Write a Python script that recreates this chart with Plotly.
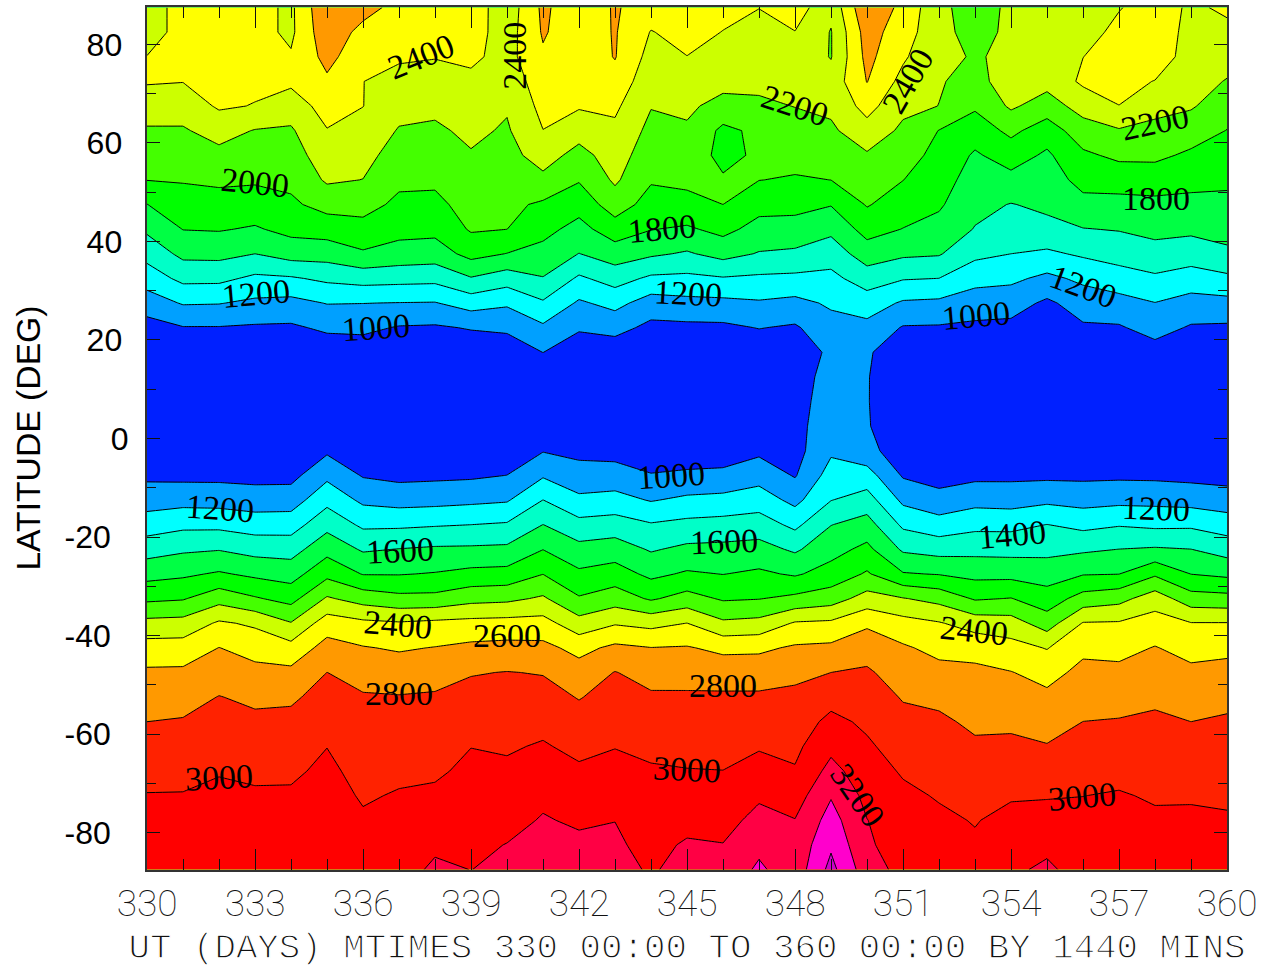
import plotly.graph_objects as go

# Latitude rows, south to north
latitudes = [-87.5,-82.5,-77.5,-72.5,-67.5,-62.5,-57.5,-52.5,-47.5,-42.5,-37.5,-32.5,-27.5,-22.5,-17.5,-12.5,-7.5,-2.5,
             2.5,7.5,12.5,17.5,22.5,27.5,32.5,37.5,42.5,47.5,52.5,57.5,62.5,67.5,72.5,77.5,82.5,87.5]
days = list(range(330, 361))

day_330 = [3130,3100,3050,3010,2927,2863,2800,2715,2631,2484,2259,1960,1732,1517,1300,1113,960,850,800,780,790,830,920,1101,1291,1470,1636,1797,2004,2092,2179,2294,2417,2405,2300,2300]
day_331 = [3130,3100,3055,3010,2945,2880,2815,2728,2635,2488,2272,1984,1766,1570,1352,1133,950,860,810,790,800,860,990,1216,1452,1650,1805,1912,2014,2097,2180,2289,2405,2440,2480,2480]
day_332 = [3140,3110,3080,3045,2986,2925,2866,2806,2706,2603,2428,2126,1823,1590,1350,1125,950,860,810,790,800,860,990,1209,1449,1657,1814,1925,2034,2145,2275,2425,2470,2500,2510,2510]
day_333 = [3140,3110,3075,3025,2963,2901,2840,2762,2654,2529,2368,2020,1759,1530,1306,1098,940,850,810,790,810,880,975,1160,1360,1600,1780,1910,2023,2106,2190,2392,2440,2470,2470,2470]
day_334 = [3140,3110,3075,3025,2968,2907,2847,2772,2647,2469,2210,1932,1716,1520,1310,1105,940,850,810,790,810,880,970,1139,1378,1684,1857,1966,2045,2111,2176,2294,2440,2420,2360,2360]
day_335 = [3150,3130,3105,3075,3040,2997,2933,2866,2801,2674,2502,2224,1945,1734,1538,1342,1154,970,860,820,800,880,1035,1208,1440,1685,1887,2070,2227,2309,2391,2480,2568,2660,2740,2780]
day_336 = [3130,3090,3025,2980,2939,2898,2858,2817,2730,2612,2444,2117,1790,1576,1362,1159,985,880,830,800,800,890,1045,1203,1478,1775,1934,2070,2197,2265,2331,2403,2402,2470,2535,2680]
day_337 = [3130,3105,3065,3015,2962,2911,2861,2810,2704,2579,2419,2056,1790,1606,1364,1124,950,860,810,790,800,860,985,1195,1466,1722,1863,1958,2040,2112,2186,2264,2343,2423,2490,2530]
day_338 = [3230,3170,3100,3032,2973,2922,2872,2821,2729,2607,2446,2059,1812,1629,1383,1135,960,860,810,790,800,860,975,1190,1456,1702,1855,1952,2034,2101,2168,2243,2325,2408,2470,2500]
day_339 = [3198,3160,3118,3078,3039,2997,2930,2862,2788,2644,2462,2136,1856,1633,1400,1156,970,870,820,790,810,870,1014,1288,1586,1865,2021,2076,2131,2185,2241,2298,2354,2440,2480,2510]
day_340 = [3240,3205,3140,3088,3034,2979,2921,2864,2806,2659,2472,2155,1869,1643,1422,1180,1002,870,840,800,810,880,1037,1230,1493,1795,2001,2045,2089,2133,2177,2220,2270,2330,2310,2280]
day_341 = [3280,3250,3215,3162,3091,3018,2945,2869,2790,2652,2475,2228,1997,1797,1602,1402,1179,990,850,810,830,1002,1165,1375,1590,1737,1860,1969,2152,2286,2397,2457,2515,2574,2620,2640]
day_342 = [3270,3240,3173,3100,3030,2951,2872,2790,2683,2541,2277,2019,1838,1663,1465,1242,1080,950,830,800,810,880,1024,1172,1368,1596,1734,1875,2015,2132,2279,2420,2450,2470,2480,2460]
day_343 = [3260,3225,3198,3132,3062,2993,2931,2869,2807,2642,2383,2103,1890,1698,1492,1268,1087,930,820,790,810,880,1067,1261,1482,1700,1906,2100,2231,2295,2359,2436,2531,2610,2615,2620]
day_344 = [3180,3150,3110,3065,3020,2958,2892,2827,2728,2604,2341,1975,1753,1581,1417,1187,1012,880,820,790,800,860,950,1108,1364,1631,1807,1921,2019,2083,2146,2209,2270,2330,2391,2500]
day_345 = [3263,3220,3148,3078,3007,2945,2885,2825,2732,2615,2402,2078,1825,1644,1455,1241,1035,890,820,790,800,860,955,1143,1354,1578,1773,1942,2041,2106,2170,2241,2319,2397,2470,2490]
day_346 = [3258,3206,3130,3066,3002,2943,2885,2826,2720,2553,2235,1977,1796,1652,1474,1257,1055,880,820,790,800,860,960,1150,1385,1668,1857,2000,2020,1948,1957,2126,2270,2350,2395,2460]
day_347 = [3435,3350,3261,3171,3075,2982,2905,2828,2715,2562,2260,1993,1834,1671,1496,1303,1122,960,820,790,800,870,1007,1178,1365,1587,1730,1868,2003,2030,2040,2170,2240,2300,2347,2403]
day_348 = [3280,3255,3206,3109,3016,2957,2899,2840,2758,2626,2420,2047,1777,1570,1352,1144,985,930,968,968,951,880,975,1145,1354,1565,1723,1860,1983,2061,2133,2204,2266,2332,2395,2500]
day_349 = [3660,3570,3478,3385,3262,3150,3050,2933,2800,2642,2437,2107,1877,1730,1595,1395,1282,1170,1060,1040,1040,1040,1130,1228,1347,1489,1648,1810,2001,2083,2167,2240,2280,2190,2190,2250]
day_350 = [3288,3225,3204,3146,3088,3029,2965,2896,2827,2718,2567,2281,2023,1850,1680,1488,1284,1067,1017,1012,1012,1020,1143,1300,1497,1701,1875,2015,2097,2178,2321,2472,2606,2657,2690,2780]
day_351 = [3141,3120,3085,3040,2980,2915,2853,2786,2706,2625,2473,2211,1815,1570,1362,1156,980,880,850,830,840,900,985,1175,1414,1634,1795,1900,2003,2083,2162,2247,2337,2430,2490,2540]
day_352 = [3100,3070,3035,2985,2933,2881,2830,2762,2658,2545,2415,2136,1790,1523,1283,1072,920,850,820,800,810,870,980,1159,1399,1617,1735,1826,1884,1940,1995,2198,2212,2230,2265,2254]
day_353 = [3050,3025,2990,2932,2879,2826,2768,2705,2641,2533,2315,1979,1742,1540,1346,1133,955,860,820,800,810,860,960,1100,1264,1449,1590,1656,1715,1775,1889,2030,2150,2190,2120,2100]
day_354 = [3160,3110,3053,2982,2910,2839,2764,2685,2607,2468,2289,2007,1740,1532,1347,1116,960,860,810,790,800,860,950,1082,1242,1400,1496,1592,1742,1889,2047,2230,2275,2223,2247,2243]
day_355 = [3240,3150,3070,2987,2900,2810,2726,2642,2533,2390,2103,1890,1709,1544,1403,1158,960,860,810,780,790,830,910,965,1153,1366,1542,1642,1705,1768,1895,2109,2265,2300,2320,2330]
day_356 = [3107,3085,3050,2998,2933,2867,2801,2727,2653,2556,2412,2081,1788,1569,1346,1128,960,860,810,790,800,870,975,1088,1242,1428,1593,1742,1863,1965,2112,2279,2434,2398,2295,2300]
day_357 = [3120,3095,3060,3015,2947,2879,2812,2730,2646,2541,2419,2135,1797,1602,1386,1148,965,860,810,790,800,870,980,1127,1315,1477,1611,1738,1883,2041,2182,2398,2450,2480,2470,2385]
day_358 = [3100,3070,3030,2980,2930,2880,2830,2768,2689,2609,2487,2308,1970,1622,1358,1146,960,860,810,780,790,920,1075,1196,1368,1529,1654,1752,1891,2043,2150,2257,2395,2490,2510,2520]
day_359 = [3100,3070,3035,2980,2921,2860,2800,2720,2641,2536,2408,2086,1797,1602,1365,1127,945,850,800,780,790,850,980,1124,1311,1494,1640,1748,1856,1965,2096,2220,2270,2330,2341,2360]
day_360 = [3090,3065,3020,2971,2922,2872,2823,2752,2662,2553,2408,2068,1757,1518,1304,1093,930,850,800,780,800,860,970,1138,1358,1567,1659,1751,1837,1916,1995,2093,2190,2268,2344,2440]

columns = [day_330,day_331,day_332,day_333,day_334,day_335,day_336,day_337,day_338,day_339,
           day_340,day_341,day_342,day_343,day_344,day_345,day_346,day_347,day_348,day_349,
           day_350,day_351,day_352,day_353,day_354,day_355,day_356,day_357,day_358,day_359,day_360]
z = [list(row) for row in zip(*columns)]

band_colors = ["#0020ff","#00a0ff","#00ffff","#00ffc8","#00ff44","#00ff00","#44ff00","#ccff00",
               "#ffff00","#ff9900","#ff2200","#ff0000","#ff0044","#ff00cc","#cc00cc"]
n = len(band_colors)
colorscale = []
for i, c in enumerate(band_colors):
    colorscale += [[i / n, c], [(i + 1) / n, c]]

lat_tick_values = [80, 60, 40, 20, 0, -20, -40, -60, -80]
lat_tick_labels = ["80\u2009", "60\u2009", "40\u2009", "20\u2009", "0",
                   "-20\u00a0\u00a0", "-40\u00a0\u00a0", "-60\u00a0\u00a0", "-80\u00a0\u00a0"]

# label text, day, latitude, angle
contour_labels = [
    ("2400",337.61,77.5,-22),("2400",340.22,77.7,-90),("2200",348.0,67.7,18),("2400",351.14,72.6,-60),
    ("2200",358.0,64.1,-12),("2000",333.0,51.9,6),("1800",344.31,42.6,-5),("1800",358.03,48.7,0),
    ("1200",333.03,29.4,-5),("1000",336.36,22.5,-4),("1200",345.03,29.4,3),("1000",353.03,24.9,-5),
    ("1200",356.0,30.8,20),("1000",344.56,-7.5,-4),("1200",332.03,-14.2,4),("1200",358.03,-14.2,2),
    ("1600",337.03,-22.7,-3),("1600",346.03,-20.9,-2),("1400",354.03,-19.5,-5),("2400",336.97,-37.7,5),
    ("2600",340.0,-40,0),("2400",352.97,-38.9,6),("2800",337.0,-51.7,0),("2800",346.0,-50.1,0),
    ("3000",332.0,-68.8,-3),("3000",345.0,-67.1,3),("3200",349.75,-72.4,55),("3000",355.97,-72.6,-5),
]

fig = go.Figure(go.Contour(
    x=days, y=latitudes, z=z,
    zmin=800, zmax=800 + 200 * n, autocontour=False,
    contours=dict(start=1000, end=3600, size=200, coloring="fill", showlabels=False),
    colorscale=colorscale, showscale=False,
    line=dict(color="black", width=1, smoothing=0),
    hoverinfo="skip",
))

annotations = [dict(x=d, y=l, xref="x", yref="y", text=t, textangle=a, showarrow=False,
                    font=dict(family="Liberation Serif", size=34, color="black"))
               for t, d, l, a in contour_labels]
annotations.append(dict(x=-0.111, y=0.5, xref="paper", yref="paper", text="LATITUDE (DEG)",
                        xanchor="center", yanchor="middle", textangle=-90, showarrow=False,
                        font=dict(family="Liberation Sans", size=33.7, color="black")))

fig.update_layout(
    width=1270, height=969, autosize=False,
    margin=dict(l=147, r=43, t=5, b=99),
    paper_bgcolor="white", plot_bgcolor="white",
    annotations=annotations, showlegend=False,
    xaxis=dict(range=[330, 360], tickmode="linear", tick0=330, dtick=3,
               ticks="inside", ticklen=21, tickwidth=1, tickcolor="#111",
               showline=True, linecolor="#333", linewidth=2, mirror="ticks",
               showgrid=False, zeroline=False, ticklabelstandoff=0,
               minor=dict(tickmode="linear", tick0=330, dtick=1, ticks="inside", ticklen=11,
                          tickwidth=1, tickcolor="#111", showgrid=False),
               tickfont=dict(family="Roboto", size=37, weight=100, color="#111"),
               title=dict(text="UT (DAYS) MTIMES 330 00:00 TO 360 00:00 BY 1440 MINS",
                          font=dict(family="Liberation Mono", size=35.8, color="#111"), standoff=10)),
    yaxis=dict(range=[-87.6, 87.6], tickmode="array", tickvals=lat_tick_values, ticktext=lat_tick_labels,
               ticks="inside", ticklen=13, tickwidth=1, tickcolor="#111",
               showline=True, linecolor="#333", linewidth=2, mirror="ticks",
               showgrid=False, zeroline=False, ticklabelstandoff=10,
               minor=dict(tickmode="linear", tick0=0, dtick=10, ticks="inside", ticklen=9,
                          tickwidth=1, tickcolor="#111", showgrid=False),
               tickfont=dict(family="Liberation Sans", size=32, color="black")),
)

# The reference draws its axis text with a thin single-stroke face
thin_text = """
document.body.style.margin='0';
document.querySelectorAll('.xtitle').forEach(function(t){
  t.style.stroke='white'; t.style.strokeWidth='1.3px';
});
"""
fig.write_html("out.html", post_script=thin_text, config={"displayModeBar": False})
